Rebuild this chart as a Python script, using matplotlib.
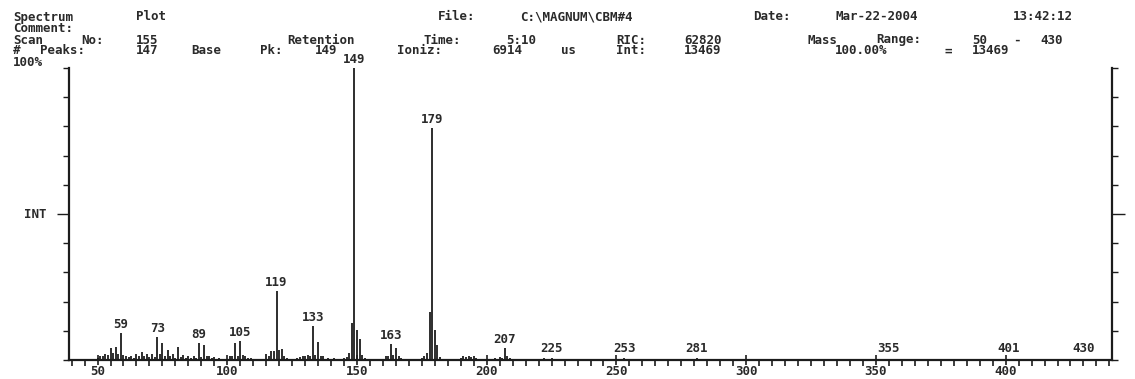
import re
import matplotlib
matplotlib.use("Agg")
import matplotlib.pyplot as plt
from matplotlib.ticker import MultipleLocator

# spectrum data: m/z and relative intensity (%)
mz = [50, 51, 52, 53, 54, 55, 56, 57, 58, 59, 60, 61, 62, 63, 64, 65, 66, 67, 68, 69,
      70, 71, 72, 73, 74, 75, 76, 77, 78, 79, 80, 81, 82, 83, 84, 85, 86, 87, 88, 89,
      90, 91, 92, 93, 94, 95, 96, 97, 98, 99, 101, 102, 103, 104, 105, 106, 107, 108, 109,
      111, 113, 115, 116, 117, 118, 119, 120, 121, 122, 123, 125, 127, 128, 129, 130,
      131, 132, 133, 134, 135, 136, 137, 138, 139, 141, 143, 145, 146, 147, 148, 149,
      150, 151, 152, 153, 154, 161, 162, 163, 164, 165, 166, 167, 168, 175, 176, 177,
      178, 179, 180, 181, 182, 189, 190, 191, 192, 193, 194, 195, 196, 197, 203, 205,
      206, 207, 208, 209, 220, 222, 223, 225, 226, 249, 251, 253, 254, 265, 267, 277,
      279, 281, 283, 343, 345, 355, 357, 401, 403, 430]
intensity = [0.8, 1.5, 1.2, 2.2, 1.8, 4.0, 2.5, 4.5, 2.0, 9.1, 1.8, 1.2, 1.0, 1.5, 0.8, 2.0, 1.5, 2.8, 1.2, 2.0,
             1.0, 2.2, 1.0, 7.8, 2.0, 5.9, 1.5, 3.4, 1.2, 2.2, 0.8, 4.3, 1.0, 1.8, 0.8, 1.5, 0.6, 1.2, 0.8, 5.7,
             1.0, 5.1, 1.2, 1.5, 0.6, 1.0, 0.5, 0.8, 0.4, 0.5, 1.2, 1.5, 5.9, 1.5, 6.6, 1.8, 1.4, 0.6, 0.8,
             0.5, 0.4, 2.0, 1.2, 3.2, 3.0, 23.7, 3.4, 3.6, 1.2, 0.8, 0.5, 0.6, 1.0, 1.5, 1.2,
             1.8, 1.5, 11.6, 1.8, 6.3, 1.5, 1.2, 0.5, 0.8, 0.6, 0.5, 0.8, 1.0, 2.5, 12.6, 100.0,
             10.3, 7.1, 1.6, 0.8, 0.5, 1.2, 1.5, 5.4, 1.8, 4.0, 1.2, 0.8, 0.5, 0.8, 1.5, 2.5,
             16.5, 79.5, 10.3, 5.1, 1.0, 0.5, 0.8, 1.2, 1.0, 1.5, 1.0, 1.3, 0.7, 0.5, 0.6, 1.0,
             0.8, 4.0, 1.4, 0.8, 0.4, 0.6, 0.5, 0.8, 0.5, 0.4, 0.5, 0.7, 0.4, 0.3, 0.4, 0.4,
             0.5, 0.7, 0.4, 0.4, 0.5, 0.5, 0.4, 0.4, 0.3, 0.3]
labeled_peaks = [59, 73, 89, 105, 119, 133, 149, 163, 179, 207, 225, 253, 281, 355, 401, 430]
x_ticks = [50, 100, 150, 200, 250, 300, 350, 400]

header_lines = [
    "Spectrum Plot                  File: C:\\MAGNUM\\CBM#4  Date: Mar-22-2004  13:42:12",
    "Comment:",
    "Scan No: 155        Retention Time: 5:10    RIC: 62820    Mass Range: 50 - 430",
    "# Peaks: 147 Base Pk: 149   Ioniz: 6914 us  Int: 13469      100.00% = 13469",
]

ink = "#1c1c1c"
font = dict(family="DejaVu Sans Mono", weight="bold", size=9, color="#2a2a2a")

W, H = 1135, 379
fig = plt.figure(figsize=(W / 100, H / 100), dpi=100)
ax = fig.add_axes([69 / W, 1 - 360 / H, (1112 - 69) / W, (360 - 68) / H])

ax.vlines(mz, 0, intensity, color=ink, lw=1.3)
ax.set_xlim(39, 441)
ax.set_ylim(0, 100)

for s in ["left", "right", "bottom"]:
    ax.spines[s].set_linewidth(1.6)
    ax.spines[s].set_color(ink)
ax.spines["top"].set_visible(False)

ax.set_xticks(x_ticks, labels=[str(t) for t in x_ticks], fontdict=font)
ax.xaxis.set_minor_locator(MultipleLocator(5))
ax.tick_params(axis="x", which="major", direction="inout", length=7, width=1.2, color=ink, pad=0)
ax.tick_params(axis="x", which="minor", direction="out", length=4, width=1.2, color=ink)

ax.set_yticks([50], labels=[""])
ax.yaxis.set_minor_locator(MultipleLocator(10))
ax.tick_params(axis="y", which="both", left=True, right=True, direction="out", color=ink, width=1.0)
ax.tick_params(axis="y", which="major", length=9)
ax.tick_params(axis="y", which="minor", length=4)

# peak labels
lookup = dict(zip(mz, intensity))
for m in labeled_peaks:
    ax.annotate(str(m), xy=(m, max(lookup[m], 1.0)), xytext=(0, 1.5),
                textcoords="offset points", ha="center", va="bottom", **font)

# INT / 100% labels
fig.text(35 / W, 1 - 215 / H, "INT", ha="center", va="center", **font)
fig.text(13 / W, 1 - 63 / H, "100%", ha="left", va="center", **font)

# header block, words placed on the original character grid
x0, pitch = 13, 13.7
row_y = [17, 28.5, 40, 51]
for row, line in zip(row_y, header_lines):
    for mt in re.finditer(r"\S+", line):
        cx = x0 + mt.start() * pitch
        fig.text(cx / W, 1 - row / H, mt.group(), ha="left", va="center", **font)

fig.savefig("out.png", dpi=100)
